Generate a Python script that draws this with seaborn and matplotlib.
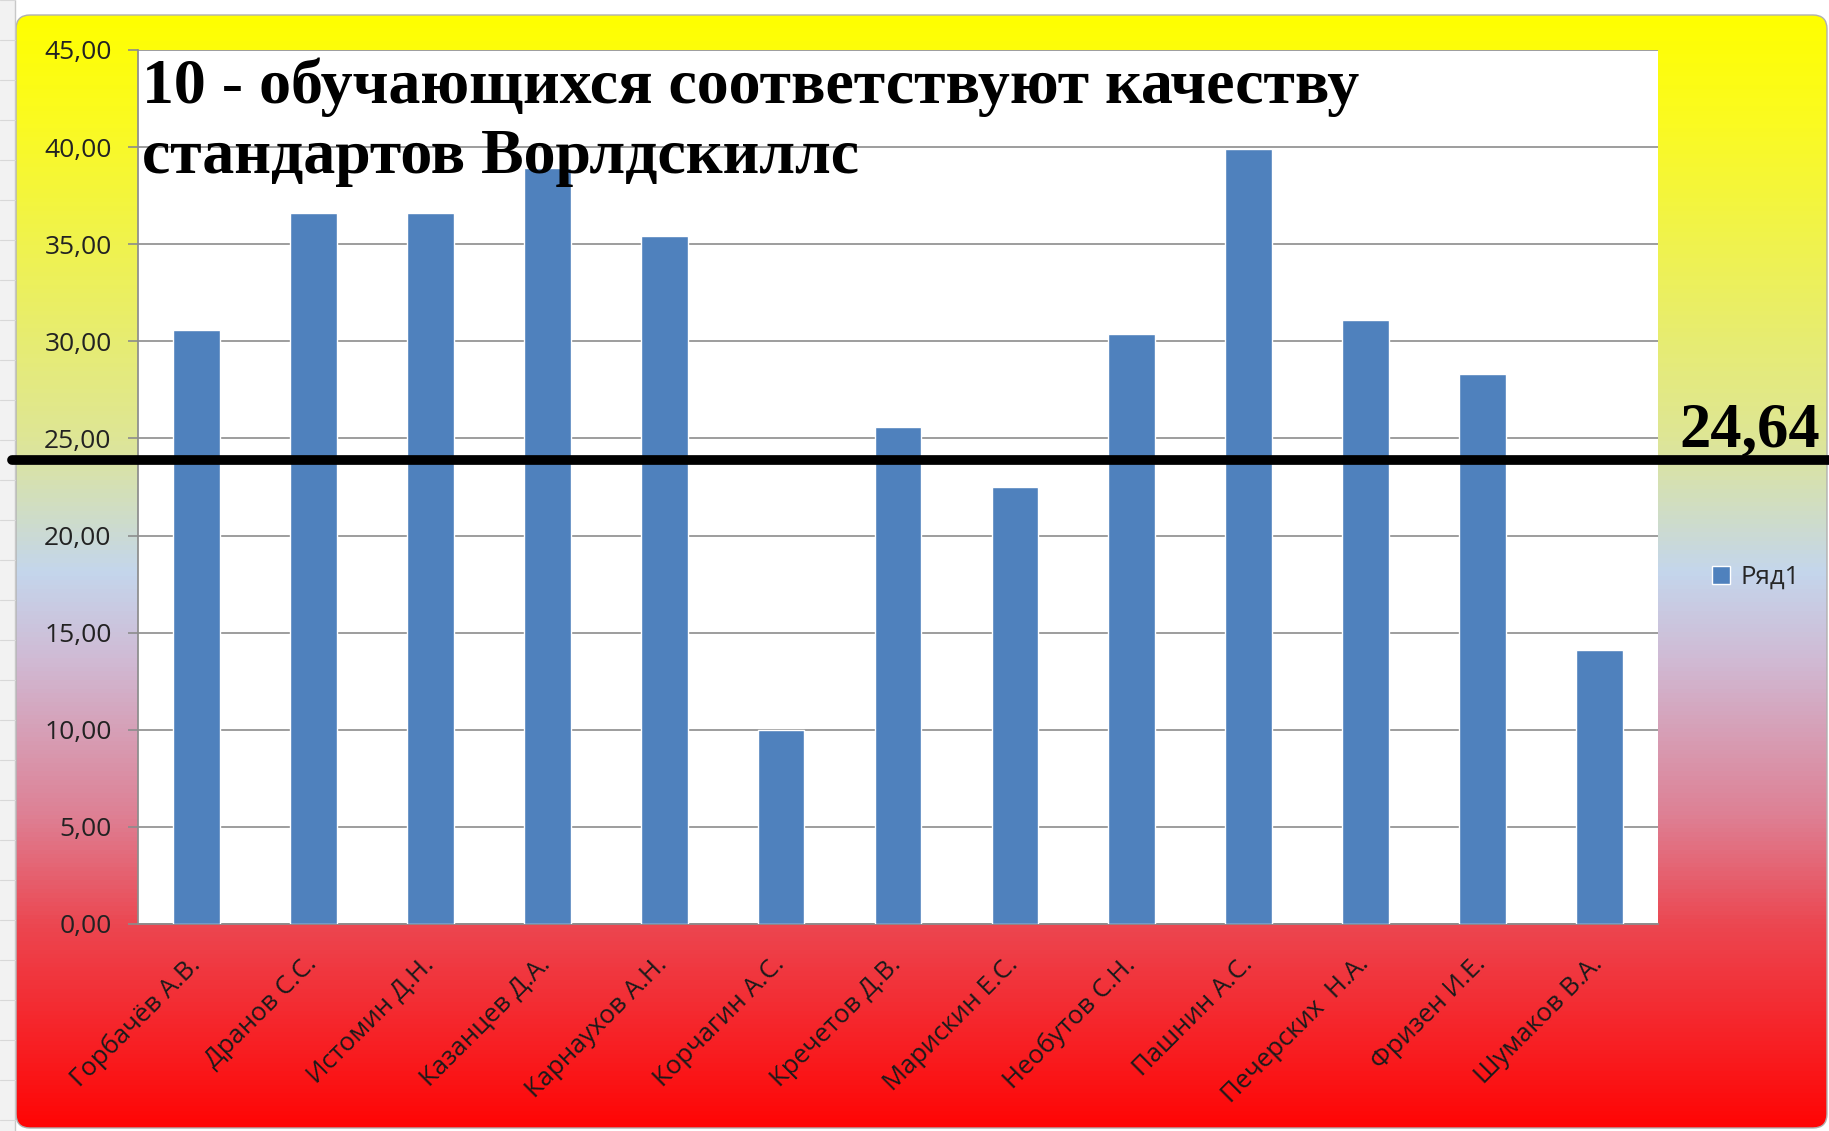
import numpy as np
import matplotlib
matplotlib.use("Agg")
import matplotlib.pyplot as plt
import seaborn as sns
from matplotlib.patches import FancyBboxPatch
from matplotlib.colors import LinearSegmentedColormap
from matplotlib.transforms import ScaledTranslation

# data
students = [
    "Горбачёв А.В.", "Дранов С.С.", "Истомин Д.Н.", "Казанцев Д.А.",
    "Карнаухов А.Н.", "Корчагин А.С.", "Кречетов Д.В.", "Марискин Е.С.",
    "Необутов С.Н.", "Пашнин А.С.", "Печерских  Н.А.", "Фризен И.Е.",
    "Шумаков В.А.",
]
scores = [30.6, 36.6, 36.6, 38.9, 35.4, 10.0, 25.6, 22.5, 30.4, 39.9, 31.1, 28.3, 14.1]
series_name = "Ряд1"
level_value = 23.9
level_label = "24,64"
title_lines = ["10 - обучающихся соответствуют качеству", "стандартов Ворлдскиллс"]
y_ticks = [0, 5, 10, 15, 20, 25, 30, 35, 40, 45]

W, H = 1829, 1131
BAR_COLOR = "#4F81BD"
GRID = "#8c8c8c"

sns.set_theme(style="white")
plt.rcParams["font.family"] = ["Open Sans", "DejaVu Sans"]


def fx(px):
    return px / W


def fy(py):
    return 1 - py / H


fig = plt.figure(figsize=(W / 100, H / 100), dpi=100)
fig.patch.set_facecolor("white")

# gradient background of the chart area (yellow -> pale blue -> red)
bg = fig.add_axes([0, 0, 1, 1])
bg.set_xlim(0, W)
bg.set_ylim(H, 0)
bg.axis("off")
stops = [
    (0.00, (255, 255, 0)),
    (0.10, (250, 250, 35)),
    (0.38, (222, 230, 150)),
    (0.50, (196, 214, 236)),
    (0.58, (208, 186, 212)),
    (0.72, (222, 128, 148)),
    (0.82, (236, 70, 80)),
    (1.00, (255, 5, 5)),
]
cmap = LinearSegmentedColormap.from_list(
    "chartbg", [(p, tuple(c / 255 for c in rgb)) for p, rgb in stops]
)
x0, y0, x1, y1 = 16, 15, 1827, 1128
grad = np.linspace(0, 1, 256).reshape(-1, 1)
im = bg.imshow(grad, cmap=cmap, aspect="auto", extent=(x0, x1, y1, y0), zorder=0)
box = FancyBboxPatch((x0, y0), x1 - x0, y1 - y0, boxstyle="round,pad=0,rounding_size=14",
                     transform=bg.transData, facecolor="none", edgecolor="#b0b0b0", lw=1)
bg.add_patch(box)
im.set_clip_path(box)

# excel grid on the left edge
bg.fill_between([0, 15], 0, H, color="#f2f2f2", lw=0)
bg.plot([15, 15], [0, H], color="#c8c8c8", lw=1)
for yy in range(0, H, 40):
    bg.plot([0, 15], [yy, yy], color="#d8d8d8", lw=0.8)

# plot area
left, right, top, bottom = 138, 1658, 50, 924
ax = fig.add_axes([fx(left), fy(bottom), fx(right - left), (bottom - top) / H])
ax.set_facecolor("white")

sns.barplot(x=students, y=scores, color=BAR_COLOR, width=0.4, saturation=1,
            label=series_name, ax=ax, zorder=3)

ax.set_ylim(0, 45)
ax.set_xlim(-0.5, len(students) - 0.5)
ax.set_yticks(y_ticks)
ax.set_yticklabels([f"{v:.2f}".replace(".", ",") for v in y_ticks], fontsize=19, color="#222222")
ax.yaxis.grid(True, color=GRID, lw=1.2, zorder=0)
ax.set_axisbelow(True)
for s in ["top", "right"]:
    ax.spines[s].set_visible(False)
ax.spines["left"].set_color(GRID)
ax.spines["bottom"].set_color(GRID)
ax.tick_params(axis="y", left=True, length=7, width=1.2, color=GRID, pad=12)
ax.tick_params(axis="x", bottom=False, pad=14)
ax.set_xticks(range(len(students)))
ax.set_xticklabels(students, rotation=45, ha="right", rotation_mode="anchor",
                   fontsize=18.5, color="#1a1a1a")
shift = ScaledTranslation(-0.09, 0, fig.dpi_scale_trans)
for lbl in ax.get_xticklabels():
    lbl.set_transform(lbl.get_transform() + shift)
ax.set_xlabel("")
ax.set_ylabel("")

# the highlighted level line across the whole chart
ax.axhline(level_value, xmin=(12 - left) / (right - left), xmax=(W - left) / (right - left),
           color="black", lw=7, clip_on=False, zorder=5)
fig.text(fx(1820), fy(447), level_label, ha="right", va="baseline",
         fontsize=45, fontweight="bold", family="Liberation Serif", color="black")

# title overlaid on the plot
fig.text(fx(142), fy(103), title_lines[0], ha="left", va="baseline",
         fontsize=46, fontweight="bold", family="Liberation Serif", color="black")
fig.text(fx(142), fy(173), title_lines[1], ha="left", va="baseline",
         fontsize=46, fontweight="bold", family="Liberation Serif", color="black")

ax.legend(loc="center left", bbox_to_anchor=((1689 - left) / (right - left), (bottom - 577) / (bottom - top)),
          frameon=False, fontsize=18.5, handlelength=0.7, handleheight=0.7, handletextpad=0.4)

fig.savefig("out.png", dpi=100)
